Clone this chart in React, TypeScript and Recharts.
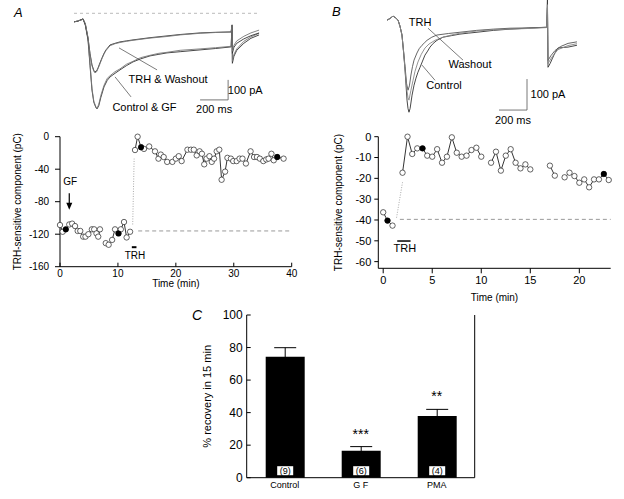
import React from "react";
import {
  LineChart,
  ComposedChart,
  BarChart,
  Line,
  Bar,
  Scatter,
  XAxis,
  YAxis,
  ReferenceLine,
  ReferenceDot,
  ErrorBar,
  LabelList,
} from "recharts";

const FONT = '"Liberation Sans", Arial, Helvetica, sans-serif';

// ---- Panel A traces (ms, pA) ----
const aCtrlT = [0, 25, 50, 64, 80, 99, 113, 127, 140, 155, 163, 175, 190, 212, 235, 255, 290, 325, 370, 417, 470, 537, 600, 657, 750, 891, 1000, 1110, 1117, 1119, 1130, 1150, 1200, 1250, 1308];
const aCtrlI = [-42, -40, -32, -28, -60, -133, -260, -384, -445, -472, -478, -462, -420, -368, -335, -318, -300, -283, -262, -243, -228, -213, -205, -198, -192, -183, -176, -168, -60, -250, -215, -185, -150, -125, -108];
const aGfI = [-44, -38, -34, -30, -55, -125, -250, -375, -440, -468, -475, -455, -410, -360, -325, -312, -292, -278, -255, -240, -222, -210, -200, -195, -185, -178, -172, -165, -60, -240, -205, -178, -140, -118, -100];
const aTrhT = [0, 25, 50, 64, 80, 99, 113, 127, 140, 148, 160, 170, 185, 198, 212, 226, 255, 290, 325, 370, 417, 537, 657, 750, 891, 1000, 1110, 1117, 1119, 1130, 1150, 1200, 1250, 1308];
const aTrhI = [-42, -40, -32, -28, -55, -125, -200, -258, -285, -293, -288, -273, -245, -223, -200, -183, -158, -150, -143, -138, -133, -122, -113, -106, -98, -95, -93, -58, -200, -170, -150, -128, -112, -98];
const aWashI = [-44, -38, -34, -30, -50, -120, -205, -262, -290, -298, -292, -276, -250, -226, -204, -186, -162, -152, -146, -140, -135, -124, -116, -108, -100, -96, -94, -58, -190, -160, -138, -115, -98, -84];

// ---- Panel B traces (ms, pA) ----
const bCtrlT = [0, 20, 43, 60, 79, 93, 107, 118, 129, 136, 143, 150, 157, 165, 179, 193, 207, 221, 236, 254, 271, 290, 307, 330, 357, 400, 460, 521, 580, 643, 760, 879, 1000, 1140, 1146, 1150, 1165, 1180, 1200, 1221, 1260, 1293, 1357];
const bCtrlI = [0, 5, 13, 8, 0, -20, -48, -100, -161, -210, -258, -285, -297, -285, -242, -210, -187, -168, -152, -132, -113, -100, -87, -75, -65, -55, -50, -45, -42, -39, -33, -29, -26, -23, 65, -152, -140, -125, -105, -90, -88, -87, -81];
const bTrhT = [0, 20, 43, 60, 79, 93, 107, 118, 129, 140, 150, 160, 171, 182, 193, 214, 230, 250, 270, 286, 320, 357, 440, 521, 640, 760, 879, 1000, 1140, 1146, 1150, 1170, 1200, 1240, 1293, 1357];
const bTrhI = [0, 5, 13, 8, 0, -20, -48, -100, -150, -205, -226, -212, -177, -150, -129, -106, -92, -81, -72, -65, -55, -48, -43, -39, -33, -29, -26, -25, -23, 40, -130, -115, -98, -85, -75, -70];
const bWashT = [0, 20, 43, 60, 79, 93, 107, 118, 129, 140, 150, 157, 170, 186, 200, 221, 245, 271, 300, 343, 400, 460, 521, 640, 760, 879, 1000, 1140, 1146, 1150, 1180, 1221, 1293, 1357];
const bWashI = [0, 5, 13, 8, 0, -20, -48, -100, -160, -220, -250, -258, -228, -194, -165, -135, -110, -90, -77, -65, -55, -48, -42, -35, -31, -29, -27, -24, 50, -140, -118, -95, -82, -76];

// ---- Panel A time course (min, pC) ----
const aTime = [0, 0.46, 1.0, 1.6, 2.1, 2.6, 3.05, 3.5, 4.0, 4.4, 4.9, 5.5, 5.9, 6.3, 6.6, 6.9, 7.4, 7.9, 8.4, 9.0, 9.5, 10.1, 10.5, 11.05, 11.5, 12.1, 12.5, 12.95, 13.4, 14.0, 14.5, 15.4, 16.4, 17.0, 17.4, 17.9, 18.5, 19.4, 20.0, 20.5, 21.0, 22.0, 22.6, 23.1, 23.6, 24.1, 24.5, 24.9, 25.3, 25.8, 26.2, 26.6, 27.05, 27.5, 27.9, 28.5, 28.9, 29.5, 29.9, 30.5, 31.0, 31.5, 32.1, 32.9, 33.5, 34.0, 34.5, 35.1, 35.6, 36.0, 36.5, 36.9, 37.5, 38.6];
const aCharge = [-108.7, -117, -114, -108, -107, -110, -116, -116, -123, -123, -120, -114, -114, -119, -123, -114, null, -131, -133, -127, -114, -119, -114, -105, -124, -117, null, -16.4, 0, -13, -15, -12, -18, -27, -22, -25, -31, -31, -27, -24, -30, -16, -16, -16, -23, -18, -21, -34, -27, -24, -31, -27, -18, -16, -53, -43, -26, -27, -30, -30, -27, -27, -33, -18, -25, -25, -27, -30, -28, -27, -21, -29, -25, -27];
const aFilledT = [1.0, 10.1, 14.0, 37.5];
const aFilledV = [-114, -119, -13, -25];

// ---- Panel B time course (min, pC) ----
const bTime = [0, 0.44, 0.95, 1.5, 1.97, 2.48, 2.96, 3.47, 4.01, 4.49, 5.0, 5.5, 6.0, 6.5, 7.0, 7.5, 8.0, 8.5, 9.0, 9.5, 10.0, 10.5, 11.0, 11.5, 12.0, 12.5, 13.0, 13.5, 14.0, 14.5, 15.0, 16.0, 17.0, 17.5, 18.0, 18.5, 19.0, 19.5, 20.0, 20.5, 21.0, 21.5, 22.0, 22.5, 23.0];
const bCharge = [-36.3, -40.3, -42.7, null, -17.3, 0, -8.3, -5.6, -5.6, -9.1, -9.6, -6, -12.5, -9.6, -0.3, -7.7, -9.6, -9.1, -6.4, -5.3, -9.6, null, -12.5, -7.2, -16.3, -9.1, -6, -12.5, -15.2, -13.3, -15.7, null, -13.9, -18.7, null, -19.5, -17.3, -18.9, -22.1, -20.5, -24.3, -20.5, -20.5, -17.9, -20.8];
const bFilledT = [0.44, 4.01, 22.5];
const bFilledV = [-40.3, -5.6, -17.9];

// ---- Panel C bars ----
const groups = ["Control", "G F", "PMA"];
const recovery = [74.4, 16.6, 37.9];
const sem = [5.5, 2.5, 4.1];
const nCells = ["(9)", "(6)", "(4)"];
const stars = ["", "***", "**"];

const pairs = (t: number[], v: (number | null)[]) => t.map((x, i) => ({ t: x, v: v[i] }));

const aCtrl = pairs(aCtrlT, aCtrlI);
const aGf = pairs(aCtrlT, aGfI);
const aTrh = pairs(aTrhT, aTrhI);
const aWash = pairs(aTrhT, aWashI);
const bCtrl = pairs(bCtrlT, bCtrlI);
const bTrh = pairs(bTrhT, bTrhI);
const bWash = pairs(bWashT, bWashI);
const aCourse = pairs(aTime, aCharge);
const aFilled = pairs(aFilledT, aFilledV);
const bCourse = pairs(bTime, bCharge);
const bFilled = pairs(bFilledT, bFilledV);
const barData = groups.map((g, i) => ({ g, v: recovery[i], err: sem[i], n: nCells[i] }));

const txt = (value: string, size = 11) => ({ value, position: "center" as const, fontSize: size, fill: "#000" });
const openDot = { r: 2.7, fill: "#fff", stroke: "#222", strokeWidth: 0.7 };
const filledDot = (p: any) => <circle cx={p.cx} cy={p.cy} r={2.9} fill="#000" />;
const arrowHead = (p: any) => (
  <path d={`M${p.cx - 3},${p.cy - 7}L${p.cx + 3},${p.cy - 7}L${p.cx},${p.cy}Z`} fill="#000" />
);

const nBox = (p: any) => {
  const cx = p.x + p.width / 2;
  const bottom = p.y + p.height;
  return (
    <g>
      <rect x={cx - 8} y={bottom - 11.5} width={16} height={9} fill="#fff" />
      <text x={cx} y={bottom - 4} textAnchor="middle" fontSize={9} fill="#000">
        {p.value}
      </text>
    </g>
  );
};

const letter = (s: string, left: number, top: number, size: number) => (
  <div style={{ position: "absolute", left, top, fontSize: size, fontStyle: "italic", lineHeight: 1 }}>{s}</div>
);

export default function App() {
  return (
    <div style={{ position: "absolute", left: 0, top: 0, width: 624, height: 499, background: "#fff", fontFamily: FONT }}>
      {letter("A", 14, 6, 13)}
      {letter("B", 332, 5, 13)}
      {letter("C", 192, 308, 14)}

      {/* A traces */}
      <div style={{ position: "absolute", left: 0, top: 0 }}>
        <LineChart width={300} height={130} margin={{ top: 9.3, right: 40.6, bottom: 16.7, left: 74 }}>
          <XAxis type="number" dataKey="t" domain={[0, 1310]} hide allowDataOverflow />
          <YAxis type="number" domain={[-500, 20]} hide allowDataOverflow />
          <ReferenceLine segment={[{ x: 0, y: 0 }, { x: 1294, y: 0 }]} stroke="#bbb" strokeDasharray="3 3" />
          <Line data={aCtrl} dataKey="v" stroke="#333" strokeWidth={0.9} dot={false} isAnimationActive={false} />
          <Line data={aGf} dataKey="v" stroke="#777" strokeWidth={0.9} dot={false} isAnimationActive={false} />
          <Line data={aTrh} dataKey="v" stroke="#333" strokeWidth={0.9} dot={false} isAnimationActive={false} />
          <Line data={aWash} dataKey="v" stroke="#777" strokeWidth={0.9} dot={false} isAnimationActive={false} />
          <ReferenceLine segment={[{ x: 318, y: -173 }, { x: 587, y: -283 }]} stroke="#444" strokeWidth={0.7} />
          <ReferenceLine segment={[{ x: 290, y: -318 }, { x: 403, y: -418 }]} stroke="#444" strokeWidth={0.7} />
          <ReferenceDot x={665} y={-328} r={0} fill="none" stroke="none" label={txt("TRH & Washout")} />
          <ReferenceDot x={498} y={-468} r={0} fill="none" stroke="none" label={txt("Control & GF")} />
          <ReferenceLine segment={[{ x: 1089, y: -333 }, { x: 1089, y: -433 }]} stroke="#555" strokeWidth={0.8} />
          <ReferenceLine segment={[{ x: 891, y: -433 }, { x: 1089, y: -433 }]} stroke="#555" strokeWidth={0.8} />
          <ReferenceDot x={1210} y={-383} r={0} fill="none" stroke="none" label={txt("100 pA")} />
          <ReferenceDot x={990} y={-480} r={0} fill="none" stroke="none" label={txt("200 ms")} />
        </LineChart>
      </div>

      {/* B traces */}
      <div style={{ position: "absolute", left: 310, top: 0 }}>
        <LineChart width={300} height={130} margin={{ top: 0, right: 32.6, bottom: 7.55, left: 77 }}>
          <XAxis type="number" dataKey="t" domain={[0, 1360]} hide allowDataOverflow />
          <YAxis type="number" domain={[-330, 65]} hide allowDataOverflow />
          <Line data={bCtrl} dataKey="v" stroke="#333" strokeWidth={0.9} dot={false} isAnimationActive={false} />
          <Line data={bTrh} dataKey="v" stroke="#555" strokeWidth={0.9} dot={false} isAnimationActive={false} />
          <Line data={bWash} dataKey="v" stroke="#888" strokeWidth={0.9} dot={false} isAnimationActive={false} />
          <ReferenceLine segment={[{ x: 293, y: -26 }, { x: 543, y: -129 }]} stroke="#444" strokeWidth={0.7} />
          <ReferenceLine segment={[{ x: 250, y: -145 }, { x: 343, y: -194 }]} stroke="#444" strokeWidth={0.7} />
          <ReferenceDot x={236} y={-6.5} r={0} fill="none" stroke="none" label={txt("TRH")} />
          <ReferenceDot x={593} y={-142} r={0} fill="none" stroke="none" label={txt("Washout")} />
          <ReferenceDot x={407} y={-210} r={0} fill="none" stroke="none" label={txt("Control")} />
          <ReferenceLine segment={[{ x: 1000, y: -190 }, { x: 1000, y: -290 }]} stroke="#555" strokeWidth={0.8} />
          <ReferenceLine segment={[{ x: 800, y: -290 }, { x: 1000, y: -290 }]} stroke="#555" strokeWidth={0.8} />
          <ReferenceDot x={1150} y={-240} r={0} fill="none" stroke="none" label={txt("100 pA")} />
          <ReferenceDot x={900} y={-321} r={0} fill="none" stroke="none" label={txt("200 ms")} />
        </LineChart>
      </div>

      {/* A time course */}
      <div style={{ position: "absolute", left: 0, top: 120 }}>
        <ComposedChart width={310} height={180} margin={{ top: 16.7, right: 18.3, bottom: 3.3, left: 0 }}>
          <XAxis
            type="number"
            dataKey="t"
            domain={[0, 40]}
            ticks={[0, 10, 20, 30, 40]}
            height={30}
            stroke="#000"
            tickSize={-4}
            tickMargin={7}
            tick={{ fill: "#000", fontSize: 10 }}
            label={{ value: "Time (min)", position: "insideBottom", offset: 10, fontSize: 10, fill: "#000" }}
          />
          <YAxis
            type="number"
            domain={[-160, 0]}
            ticks={[-160, -120, -80, -40, 0]}
            width={60}
            stroke="#000"
            tickSize={5}
            tickMargin={6}
            tick={{ fill: "#000", fontSize: 10 }}
            label={{ value: "TRH-sensitive component (pC)", angle: -90, position: "insideLeft", offset: 17, fontSize: 10, fill: "#000", style: { textAnchor: "middle" } }}
          />
          <ReferenceLine segment={[{ x: 13.5, y: -116 }, { x: 40, y: -116 }]} stroke="#999" strokeDasharray="4 3" />
          <ReferenceLine segment={[{ x: 12.55, y: -108 }, { x: 12.8, y: -27 }]} stroke="#aaa" strokeDasharray="1 1.5" />
          <ReferenceLine segment={[{ x: 12.4, y: -136 }, { x: 13.2, y: -136 }]} stroke="#000" strokeWidth={2} />
          <ReferenceDot x={12.95} y={-146} r={0} fill="none" stroke="none" label={txt("TRH", 10)} />
          <ReferenceDot x={1.75} y={-55.4} r={0} fill="none" stroke="none" label={txt("GF", 10)} />
          <ReferenceLine segment={[{ x: 1.6, y: -69.7 }, { x: 1.6, y: -84 }]} stroke="#000" strokeWidth={1.2} />
          <ReferenceDot x={1.6} y={-90} r={0} shape={arrowHead} />
          <Line data={aCourse} dataKey="v" stroke="#000" strokeWidth={0.8} dot={openDot} activeDot={false} isAnimationActive={false} />
          <Scatter data={aFilled} dataKey="v" shape={filledDot} isAnimationActive={false} />
        </ComposedChart>
      </div>

      {/* B time course */}
      <div style={{ position: "absolute", left: 310, top: 120 }}>
        <ComposedChart width={314} height={190} margin={{ top: 16.7, right: 13.3, bottom: 11.7, left: 8.3 }}>
          <XAxis
            type="number"
            dataKey="t"
            domain={[-0.5, 23.2]}
            ticks={[0, 5, 10, 15, 20]}
            height={30}
            stroke="#000"
            tickSize={5}
            tickMargin={3}
            tick={{ fill: "#000", fontSize: 11 }}
            label={{ value: "Time (min)", position: "insideBottom", offset: -3, fontSize: 10, fill: "#000" }}
          />
          <YAxis
            type="number"
            domain={[-63.2, 0]}
            ticks={[-60, -50, -40, -30, -20, -10, 0]}
            width={60}
            stroke="#000"
            tickSize={4}
            tickMargin={3}
            tick={{ fill: "#000", fontSize: 11 }}
            label={{ value: "TRH-sensitive component (pC)", angle: -90, position: "insideLeft", offset: 20, fontSize: 10, fill: "#000", style: { textAnchor: "middle" } }}
          />
          <ReferenceLine segment={[{ x: 1.7, y: -39.7 }, { x: 23.2, y: -39.7 }]} stroke="#999" strokeDasharray="4 3" />
          <ReferenceLine segment={[{ x: 1.36, y: -38.9 }, { x: 1.97, y: -21.9 }]} stroke="#aaa" strokeDasharray="1 1.5" />
          <ReferenceLine segment={[{ x: 1.43, y: -50.1 }, { x: 2.79, y: -50.1 }]} stroke="#000" strokeWidth={1.5} />
          <ReferenceDot x={2.2} y={-53.6} r={0} fill="none" stroke="none" label={txt("TRH", 11)} />
          <Line data={bCourse} dataKey="v" stroke="#000" strokeWidth={0.8} dot={openDot} activeDot={false} isAnimationActive={false} />
          <Scatter data={bFilled} dataKey="v" shape={filledDot} isAnimationActive={false} />
        </ComposedChart>
      </div>

      {/* C bars */}
      <div style={{ position: "absolute", left: 180, top: 300 }}>
        <BarChart data={barData} width={310} height={199} margin={{ top: 15, right: 14.3, bottom: 1.3, left: 16.7 }} barSize={39}>
          <XAxis dataKey="g" height={20} stroke="#000" tickLine={false} tickSize={2} tickMargin={2} tick={{ fill: "#000", fontSize: 9 }} />
          <YAxis
            domain={[0, 100]}
            ticks={[0, 20, 40, 60, 80, 100]}
            width={50}
            stroke="#000"
            tickSize={-4}
            tickMargin={8}
            tick={{ fill: "#000", fontSize: 12 }}
            label={{ value: "% recovery in 15 min", angle: -90, position: "insideLeft", offset: 10, fontSize: 11, fill: "#000", style: { textAnchor: "middle" } }}
          />
          <YAxis yAxisId="r" orientation="right" domain={[0, 100]} ticks={[0, 20, 40, 60, 80, 100]} width={1} stroke="#000" tickSize={-4} tickFormatter={() => ""} />
          <Bar dataKey="v" fill="#000" isAnimationActive={false}>
            <ErrorBar dataKey="err" width={11} stroke="#000" strokeWidth={1} />
            <LabelList dataKey="n" content={nBox} />
          </Bar>
          {groups.map((g, i) =>
            stars[i] ? (
              <ReferenceDot
                key={g}
                x={g}
                y={recovery[i] + sem[i]}
                r={0}
                fill="none"
                stroke="none"
                label={{ value: stars[i], position: "top", offset: 8, fontSize: 14, fill: "#000" }}
              />
            ) : null
          )}
        </BarChart>
      </div>
    </div>
  );
}
